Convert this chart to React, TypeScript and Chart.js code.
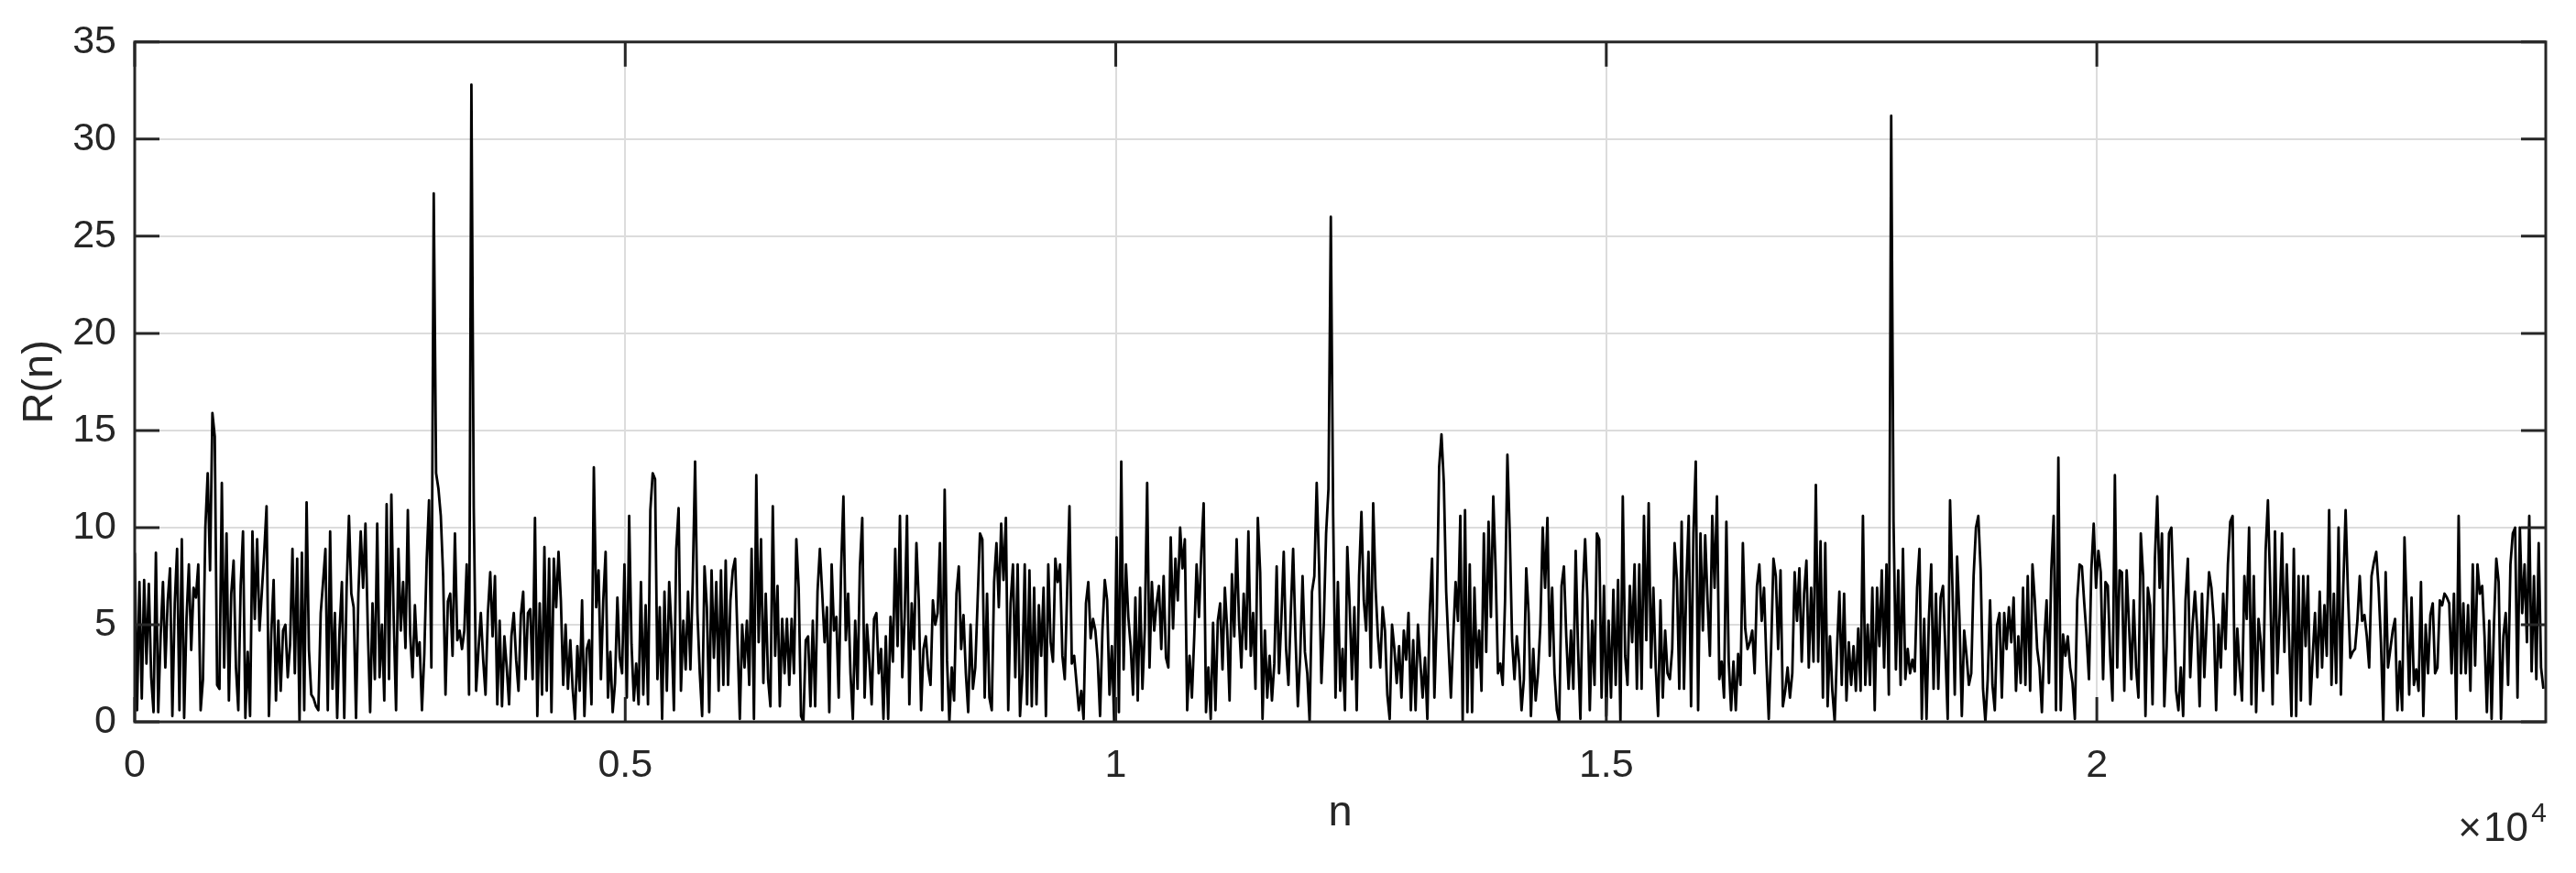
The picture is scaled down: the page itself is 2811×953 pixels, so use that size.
import React, { useEffect, useRef } from "react";
import { Chart, registerables } from "chart.js";

Chart.register(...registerables);

// ---- data ----
const STEP = 24; // samples between plotted values
const X_MAX = 24576;
const xTickVals = [0, 5000, 10000, 15000, 20000];
const xTickLabels = ["0", "0.5", "1", "1.5", "2"];
const yTickVals = [0, 5, 10, 15, 20, 25, 30, 35];

const seg01 = [8.7, 0.6, 7.2, 1.2, 7.3, 3, 7.1, 2.3, 0.5, 8.7, 0.5, 4.4, 7.2, 2.8, 6.2, 7.9, 0.3, 6.1, 8.9, 0.6, 9.4, 0.2, 5.3, 8.1, 3.7, 6.9, 6.4, 8.1, 0.6, 2.2, 10, 12.8, 7.8, 15.9, 14.7, 1.9, 1.7, 12.3, 2.8, 9.7, 1.1, 6.6, 8.3, 2.8, 0.6, 7, 9.8, 0.2, 3.6, 0.3, 9.8, 5.3, 9.4, 4.7, 6.7, 8.7, 11.1, 0.3, 4.5, 7.3, 1.1, 5.2, 1.6, 4.7, 5, 2.3, 4, 8.9, 2.5, 8.4, 0, 8.7, 0.6, 11.3, 3.7, 1.4, 1.2, 0.8, 0.6, 5.6, 7.2, 8.9, 0.6, 9.8, 1.7, 5.6, 0.2, 4.7, 7.2, 0.2, 6.9, 10.6, 6.6, 5.9, 0.2, 6.6, 9.8, 6.9, 10.2, 4.8, 0.5];
const seg02 = [6.1, 2.2, 10.2, 2.3, 5, 1.1, 11.2, 2.2, 11.7, 5.3, 0.6, 8.9, 4.7, 7.2, 3.8, 10.9, 4.5, 2.3, 6.0, 3.4, 4.1, 0.6, 3.5, 8.3, 11.4, 2.8, 27.2, 12.8, 12, 10.6, 7.5, 1.4, 6.2, 6.6, 3.4, 9.7, 4.2, 4.7, 3.75, 4.7, 8.1, 1.4, 32.8, 11, 1.6, 3.7, 5.6, 3.2, 1.4, 5.6, 7.7, 4.4, 7.5, 0.9, 5.2, 0.8, 4.4, 2.8, 0.9, 4.4, 5.6, 3.2, 1.6, 5.5, 6.7, 2.2, 5.6, 5.8, 2.2, 10.5, 0.3, 6.1, 1.4, 9.0, 1.6, 8.4, 0.5, 8.4, 5.9, 8.75, 6.25, 1.9, 5.0, 1.7, 4.2, 1.7, 0.15, 3.9, 1.6, 6.25, 0.3, 3.75, 4.2, 0.9, 13.1, 5.9, 7.8, 2.2, 6.25, 8.75, 1.25];
const seg03 = [3.6, 0.5, 2.0, 6.4, 3.3, 2.5, 8.1, 1.25, 10.6, 4.0, 1.1, 3.0, 0.9, 7.2, 1.4, 6.0, 0.9, 10.9, 12.8, 12.5, 2.2, 5.9, 0.15, 6.7, 1.6, 7.2, 4.7, 0.6, 8.9, 11, 1.6, 5.2, 2.7, 6.7, 2.7, 7.2, 13.4, 5.6, 2.5, 0.3, 8.0, 5.9, 0.5, 7.8, 3.3, 7.2, 1.6, 7.8, 1.9, 8.3, 1.9, 6.25, 7.8, 8.4, 4.4, 0.15, 5, 2.8, 5.2, 1.9, 8.9, 0.15, 12.7, 4.1, 9.4, 2, 6.6, 2.2, 0.8, 11.1, 3.4, 7.0, 0.8, 5.3, 2.5, 5.3, 1.9, 5.3, 2.5, 9.4, 6.9, 0.3, 0, 4.2, 4.4, 0.8, 5.2, 0.8, 6.7, 8.9, 6.6, 4.1, 5.9, 0.5, 8.1, 4.7, 5.4, 1.25, 7.8, 11.6, 4.2];
const seg04 = [6.6, 2.5, 0.15, 5.2, 1.7, 8.0, 10.5, 1.25, 5.0, 3.2, 0.9, 5.3, 5.6, 2.5, 3.75, 0.15, 4.4, 0.15, 5.4, 3.1, 8.9, 3.9, 10.6, 2.3, 5.4, 10.6, 0.9, 6.1, 3.75, 9.2, 6.25, 0.6, 3.75, 4.4, 2.7, 1.9, 6.25, 5.0, 5.6, 9.2, 0.6, 11.95, 3.2, 0, 2.8, 1.1, 6.6, 8.0, 3.75, 5.5, 2.5, 0.5, 5.0, 1.7, 2.8, 6.25, 9.7, 9.4, 1.25, 6.6, 1.25, 0.6, 7.2, 9.2, 5.9, 10.2, 7.3, 10.5, 0.6, 6.1, 8.1, 2.3, 8.1, 0.3, 2.5, 8.1, 0.9, 7.8, 0.8, 6.9, 0.9, 6.0, 3.4, 6.9, 0.3, 8.1, 4.1, 3.1, 8.4, 7.2, 8.1, 3.4, 2.2, 6.6, 11.1, 3.0, 3.4, 2.0, 0.6, 1.6, 0.15];
const seg05 = [6.1, 7.2, 4.3, 5.3, 4.7, 3.2, 0.3, 4.7, 7.3, 6.25, 1.4, 3.9, 0, 9.5, 0.5, 13.4, 2.7, 8.1, 5.4, 3.9, 1.4, 6.4, 1.1, 6.9, 1.7, 4.8, 12.3, 2.8, 7.2, 4.7, 6.1, 7.0, 3.75, 7.5, 3.3, 2.8, 9.5, 4.8, 8.4, 6.25, 10, 7.9, 9.4, 0.6, 3.4, 1.25, 4.4, 8.1, 5.4, 8.75, 11.25, 0.5, 2.8, 0.15, 5.1, 0.6, 5.2, 6.1, 2.7, 6.9, 4.7, 1.1, 7.6, 4.4, 9.4, 5.2, 2.8, 6.6, 3.75, 9.8, 3.4, 5.6, 1.7, 10.5, 7.7, 0.15, 4.7, 1.25, 3.4, 1.1, 3.0, 8.0, 2.5, 5.3, 8.75, 3.75, 1.9, 5.6, 8.9, 4.4, 0.8, 3.4, 7.5, 3.6, 2.5, 0, 6.7, 7.5, 12.3, 8.1, 2.0];
const seg06 = [5.0, 9.7, 12, 26, 10.6, 1.25, 7.2, 1.6, 3.75, 0.6, 9.0, 6.0, 2.2, 5.9, 0.6, 7.5, 10.8, 6.25, 4.7, 8.75, 2.8, 11.25, 6.9, 4.4, 2.8, 5.9, 4.7, 1.4, 0.15, 5.0, 3.75, 2.0, 3.9, 1.25, 4.7, 3.2, 5.6, 0.6, 4.2, 0.6, 5.0, 3.1, 1.25, 3.3, 0.15, 5.6, 8.4, 1.25, 5.5, 13.1, 14.8, 12.3, 6.7, 3.9, 1.25, 4.4, 7.2, 5.2, 10.6, 0, 10.9, 0.5, 8.1, 0.5, 6.9, 2.8, 4.7, 1.6, 9.7, 3.6, 10.3, 5.4, 11.6, 7.8, 2.5, 3.0, 1.9, 6.25, 13.75, 9.7, 4.2, 2.2, 4.4, 3.0, 0.6, 2.2, 7.9, 5.6, 0.3, 3.75, 1.1, 2.5, 5.0, 10, 6.9, 10.5, 3.4, 6.9, 2.5, 0.6, 0];
const seg07 = [7.0, 8.0, 4.4, 1.7, 4.7, 1.7, 8.8, 3.75, 0.15, 6.6, 9.4, 6.25, 0.6, 5.2, 1.9, 9.7, 9.4, 1.25, 7.0, 0.3, 5.2, 1.25, 6.8, 1.9, 7.3, 0, 11.6, 3.4, 1.9, 7.0, 4.1, 8.1, 1.7, 8.1, 1.7, 10.6, 4.2, 11.25, 2.8, 6.9, 2.8, 0.3, 6.25, 1.25, 4.7, 2.5, 2.2, 3.75, 9.2, 7.3, 1.7, 10.3, 1.7, 7.2, 10.6, 0.8, 9.7, 13.4, 0.6, 9.7, 4.7, 9.6, 6.25, 3.4, 10.6, 6.9, 11.6, 2.2, 3.1, 1.25, 10.3, 3.1, 0.6, 3.1, 0.6, 3.5, 1.9, 9.2, 4.8, 3.75, 4.1, 4.7, 2.5, 7.0, 8.1, 5.2, 6.9, 3.1, 0.15, 3.75, 8.4, 7.5, 3.75, 7.8, 0.8, 1.6, 2.8, 1.25, 2.5, 7.7, 5.2];
const seg08 = [7.9, 3.1, 6.6, 8.3, 2.8, 6.9, 3.1, 12.2, 3.1, 9.3, 1.25, 9.2, 0.8, 4.4, 1.6, 0, 3.75, 6.7, 1.9, 6.6, 1.1, 4.1, 1.9, 3.9, 1.6, 4.8, 1.6, 10.6, 1.9, 5.0, 1.9, 6.9, 0.6, 6.9, 3.9, 7.8, 2.8, 8.1, 1.4, 31.2, 10.3, 2.7, 7.8, 1.9, 8.9, 2.2, 3.75, 2.5, 3.2, 2.6, 6.9, 8.9, 0.15, 5.3, 0.15, 5.3, 8.1, 1.7, 6.6, 1.7, 6.4, 7.0, 3.75, 0.15, 11.4, 7.0, 1.4, 8.5, 5.3, 0.3, 4.7, 3.4, 1.9, 2.5, 7.5, 10, 10.6, 7.8, 1.7, 0, 2.2, 6.25, 1.9, 0.6, 5.0, 5.6, 1.25, 5.6, 3.75, 5.9, 4.1, 6.4, 1.6, 4.4, 2.0, 6.9, 1.9, 7.5, 1.6, 8.1, 6.25];
const seg09 = [3.75, 2.8, 0.5, 4.1, 6.25, 2.0, 7.8, 10.6, 0.6, 13.6, 0.6, 4.5, 3.4, 4.4, 2.8, 2.0, 0.15, 6.25, 8.1, 8.0, 6.1, 4.4, 2.2, 7.8, 10.2, 6.9, 8.8, 7.7, 2.2, 7.2, 7.0, 3.4, 1.1, 12.7, 2.8, 7.8, 7.7, 1.6, 7.8, 5.0, 2.2, 6.25, 2.8, 1.25, 9.7, 7.5, 0.3, 6.9, 6.0, 0.9, 8.4, 11.6, 6.9, 9.7, 0.8, 3.9, 9.7, 10, 6.1, 1.6, 0.6, 2.8, 0.3, 6.25, 8.4, 2.3, 5.0, 6.7, 4.7, 0.8, 6.6, 2.3, 5.2, 7.7, 6.9, 5.2, 0.6, 5.0, 2.8, 6.6, 3.75, 8.1, 10.3, 10.6, 1.4, 4.8, 2.7, 1.1, 7.5, 5.3, 10, 0.9, 7.5, 0.5, 5.3, 4.1, 1.6, 8.75, 11.4, 6.9, 0.9];
const seg10 = [9.8, 2.5, 5.6, 9.7, 3.6, 8.1, 4.2, 0.3, 8.9, 0.3, 7.5, 1.1, 7.5, 3.9, 7.5, 0.9, 3.3, 5.6, 2.3, 6.7, 2.8, 6.0, 3.4, 10.9, 1.9, 6.6, 2.0, 10, 1.4, 6.9, 10.9, 6.6, 3.3, 3.6, 3.75, 5.2, 7.5, 5.2, 5.5, 4.4, 2.8, 7.5, 8.2, 8.75, 6.9, 4.1, 0, 7.7, 2.8, 3.75, 4.7, 5.3, 0.6, 3.1, 0.6, 9.5, 5.6, 1.4, 6.4, 1.9, 2.7, 1.6, 7.2, 0.3, 5.0, 2.5, 5.5, 6.1, 2.5, 2.8, 6.25, 6.0, 6.6, 6.4, 6.1, 2.5, 6.6, 0.15, 10.6, 2.5, 6.1, 2.5, 6.0, 1.6, 8.1, 2.9, 8.1, 6.6, 7.0, 4.4, 0.5, 5.2, 0.15, 5.0, 8.4, 7.2, 0.15, 4.4, 5.6, 1.9, 8.1, 9.7, 10, 1.25, 10, 5.6, 8.1, 4.1, 10.6, 2.6, 7.5, 2.2, 9.2, 2.8, 1.7];

const rValues = [...seg01, ...seg02, ...seg03, ...seg04, ...seg05, ...seg06, ...seg07, ...seg08, ...seg09, ...seg10];

// ---- styling ----
const FONT = "'Liberation Sans', Arial, Helvetica, sans-serif";
const INK = "#262626";
const GRID = "#dcdcdc";
const TICK_FONT = 43;
const LABEL_FONT = 47;

const framePlugin = {
  id: "matlabFrame",
  afterDatasetsDraw(chart: any) {
    const { ctx, chartArea: a, scales } = chart;
    ctx.save();
    ctx.strokeStyle = INK;
    ctx.lineWidth = 3;
    ctx.beginPath();
    for (const v of yTickVals) {
      const y = scales.y.getPixelForValue(v);
      ctx.moveTo(a.left, y);
      ctx.lineTo(a.left + 27, y);
      ctx.moveTo(a.right, y);
      ctx.lineTo(a.right - 27, y);
    }
    for (const v of xTickVals) {
      const x = scales.x.getPixelForValue(v);
      ctx.moveTo(x, a.bottom);
      ctx.lineTo(x, a.bottom - 27);
      ctx.moveTo(x, a.top);
      ctx.lineTo(x, a.top + 27);
    }
    ctx.stroke();
    ctx.strokeRect(a.left, a.top, a.right - a.left, a.bottom - a.top);

    // exponent label  ×10^4
    ctx.fillStyle = INK;
    ctx.textBaseline = "alphabetic";
    ctx.textAlign = "right";
    ctx.font = `30px ${FONT}`;
    ctx.fillText("4", a.right + 1, a.bottom + 109);
    ctx.font = `44px ${FONT}`;
    ctx.fillText("10", a.right - 19, a.bottom + 130);
    ctx.fillText("\u00d7", a.right - 70, a.bottom + 130);
    ctx.restore();
  },
};

export default function App() {
  const canvasRef = useRef<HTMLCanvasElement | null>(null);

  useEffect(() => {
    const canvas = canvasRef.current;
    if (!canvas) return;
    const points = rValues.map((v, i) => ({ x: i * STEP, y: v }));
    const chart = new Chart(canvas, {
      type: "line",
      data: {
        datasets: [
          {
            data: points,
            borderColor: "#000000",
            borderWidth: 2.8,
            borderJoinStyle: "round",
            pointRadius: 0,
            tension: 0,
            fill: false,
          },
        ],
      },
      options: {
        animation: false,
        responsive: false,
        devicePixelRatio: 1,
        events: [],
        parsing: false,
        normalized: true,
        layout: { padding: { top: 39, right: 33, left: 0, bottom: 0 } },
        plugins: {
          legend: { display: false },
          tooltip: { enabled: false },
          title: { display: false },
        },
        scales: {
          x: {
            type: "linear",
            min: 0,
            max: X_MAX,
            afterFit: (s: any) => {
              s.height = 165;
            },
            afterBuildTicks: (s: any) => {
              s.ticks = xTickVals.map((v) => ({ value: v }));
            },
            ticks: {
              autoSkip: false,
              maxRotation: 0,
              padding: 22,
              color: INK,
              font: { family: FONT, size: TICK_FONT },
              callback: (v: any) => {
                const k = xTickVals.indexOf(Number(v));
                return k >= 0 ? xTickLabels[k] : "";
              },
            },
            grid: { color: GRID, lineWidth: 2, drawTicks: false },
            border: { display: false },
            title: {
              display: true,
              text: "n",
              color: INK,
              font: { family: FONT, size: LABEL_FONT },
              padding: { top: 0, bottom: 37 },
            },
          },
          y: {
            type: "linear",
            min: 0,
            max: 35,
            afterFit: (s: any) => {
              s.width = 147;
            },
            afterBuildTicks: (s: any) => {
              s.ticks = yTickVals.map((v) => ({ value: v }));
            },
            ticks: {
              autoSkip: false,
              padding: 20,
              color: INK,
              font: { family: FONT, size: TICK_FONT },
              callback: (v: any) => String(v),
            },
            grid: { color: GRID, lineWidth: 2, drawTicks: false },
            border: { display: false },
            title: {
              display: true,
              text: "R(n)",
              color: INK,
              font: { family: FONT, size: LABEL_FONT },
              padding: { top: 16, bottom: 0 },
            },
          },
        },
      },
      plugins: [framePlugin],
    } as any);
    return () => chart.destroy();
  }, []);

  return (
    <div style={{ position: "fixed", left: 0, top: 0, width: 2811, height: 953, background: "#ffffff" }}>
      <canvas ref={canvasRef} width={2811} height={953} style={{ display: "block" }} />
    </div>
  );
}
